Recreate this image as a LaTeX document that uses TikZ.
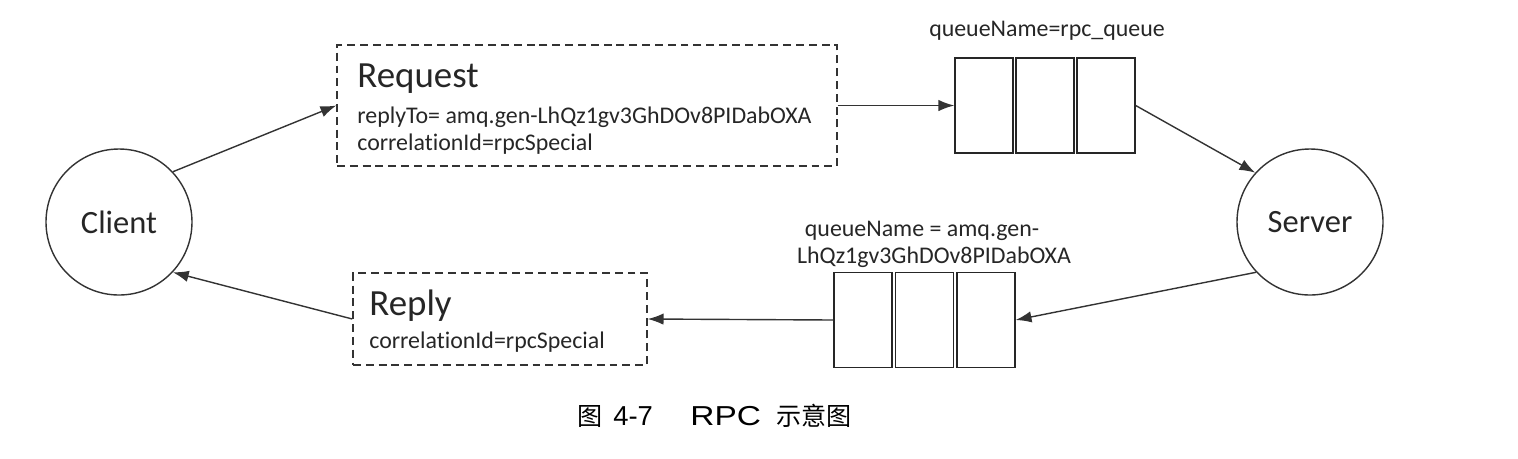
\documentclass[tikz,border=0pt]{standalone}
\usepackage{fontspec}
\setmainfont{Carlito}[Ligatures=NoCommon]
\newfontfamily\capfont{Liberation Sans}
\newfontfamily\cjk{Noto Sans CJK SC}
\usetikzlibrary{arrows.meta}
\tikzset{
  ln/.style={draw=black!80, line width=0.8pt},
  arr/.style={ln, -{Latex[length=9pt,width=6.5pt]}},
  party/.style={circle, ln, inner sep=0pt, minimum size=146*0.02cm, font=\fontsize{18.5}{20}\selectfont, text=black!85},
  msgbox/.style={rectangle, ln, dashed, dash pattern=on 4.5pt off 2.8pt, inner sep=0pt},
  cell/.style={rectangle, draw=black!85, line width=0.8pt, inner sep=0pt, minimum width=58*0.02cm, minimum height=95*0.02cm},
  big/.style={anchor=base west, inner sep=0pt, font=\fontsize{21}{24}\selectfont, text=black!85},
  small/.style={anchor=base west, inner sep=0pt, font=\fontsize{13.6}{16}\selectfont, text=black!85},
  qlabel/.style={anchor=base, inner sep=0pt, font=\fontsize{13.6}{16}\selectfont, text=black!85},
  captxt/.style={anchor=base west, inner sep=0pt, font=\fontsize{15.6}{18}\selectfont},
  capcjk/.style={anchor=base west, inner sep=0pt, font=\fontsize{14.3}{18}\selectfont},
}
\begin{document}
\begin{tikzpicture}[x=0.02cm, y=-0.02cm]
\useasboundingbox (0,0) rectangle (1518,458);
% parties
\node[party] (client) at (119,222) {Client};
\node[party] (server) at (1310,222) {Server};
% request box
\node[msgbox, minimum width=500*0.02cm, minimum height=121*0.02cm] (req) at (587,105.5) {};
\node[big] (reqt) at (357,87) {Request};
\node[small] (reqa) at (357,123) {replyTo= amq.gen-LhQz1gv3GhDOv8PIDabOXA};
\node[small] (reqb) at (357,150) {correlationId=rpcSpecial};
% reply box
\node[msgbox, minimum width=294*0.02cm, minimum height=92*0.02cm] (rep) at (500,319) {};
\node[big] (rept) at (369,315) {Reply};
\node[small] (repa) at (369,348) {correlationId=rpcSpecial};
% queue 1
\node[cell] (q1a) at (984,105.5) {};
\node[cell] (q1b) at (1045,105.5) {};
\node[cell] (q1c) at (1106,105.5) {};
\node[qlabel] (q1l) at (1047,36) {queueName=rpc\_queue};
% queue 2
\node[cell] (q2a) at (863,320) {};
\node[cell] (q2b) at (924.5,320) {};
\node[cell] (q2c) at (986,320) {};
\node[qlabel] (q2l1) at (922,236) {queueName = amq.gen-};
\node[qlabel] (q2l2) at (934,263) {LhQz1gv3GhDOv8PIDabOXA};
% connectors
\draw[arr] (client.43) -- (req.west);
\draw[arr] (req.east) -- (q1a.west);
\draw[arr] (q1c.east) -- (server.138);
\draw[arr] (server.223) -- (q2c.east);
\draw[arr] (q2a.west) -- (rep.east);
\draw[arr] (rep.west) -- (client.-43);
% caption
\node[capcjk] (cap1) at (577,425) {\cjk 图};
\node[captxt] (cap2) at (613,425) {\capfont 4-7};
\node[captxt] (cap3) at (690,425) {\capfont\scalebox{1.22}[1]{RPC}};
\node[capcjk] (cap4) at (776,425) {\cjk 示意图};
\end{tikzpicture}
\end{document}
